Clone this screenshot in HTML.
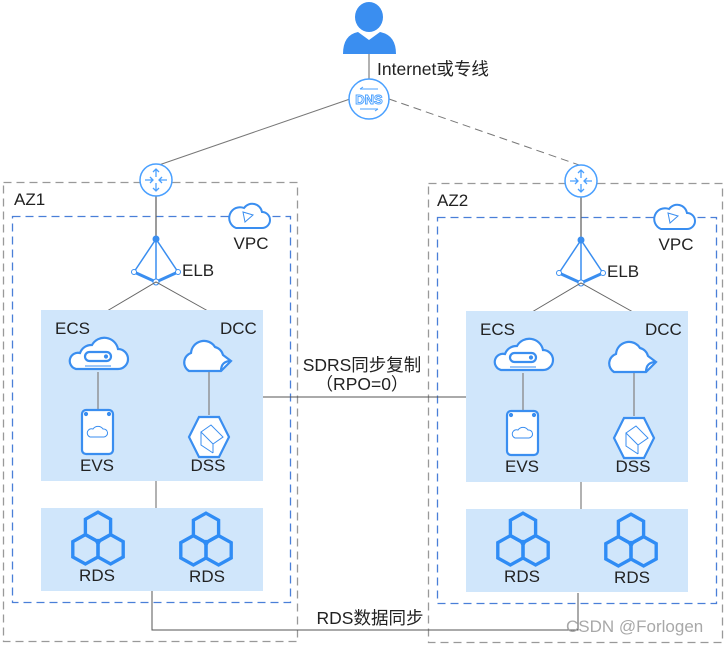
<!DOCTYPE html>
<html><head><meta charset="utf-8"><style>
html,body{margin:0;padding:0;background:#fff;}
svg{display:block;font-family:"Liberation Sans","Noto Sans CJK SC",sans-serif;}
</style></head><body>
<svg width="726" height="645" viewBox="0 0 726 645" xmlns="http://www.w3.org/2000/svg" font-size="17">
<defs>
<g id="router"><circle r="16" fill="#fff" stroke="#4aa0ff" stroke-width="1.5"/>
<path d="M0-11V-3M-3-8L0-11L3-8M0 11V3M-3 8L0 11L3 8M-11 0H-3M-6-3L-3 0L-6 3M11 0H3M6-3L3 0L6 3" stroke="#4aa0ff" stroke-width="1.3" fill="none"/></g>
<g id="vpc"><path d="M-14 12 H12 A8 8 0 0 0 12 -4 A10 10 0 0 0 -6 -8 A9 9 0 0 0 -14 12Z" fill="#fff" stroke="#3a8ef0" stroke-width="2"/><path d="M-7-4 L3 -1 L-5 6Z" fill="none" stroke="#3a8ef0" stroke-width="1"/></g>
<g id="elb" stroke="#3a8ef0" fill="none"><circle cy="-30" r="3" fill="#3a8ef0"/><path d="M0-30 V13 M0-30 L-22 3 M0-30 L22 3" stroke-width="1.5"/><path d="M-22 3 L0 13 L22 3" stroke-width="3"/><circle cx="-22" cy="3" r="2.5" fill="#fff"/><circle cx="22" cy="3" r="2.5" fill="#fff"/><circle cy="13" r="3" fill="#fff"/></g>
<g id="ecs" fill="none" stroke="#3a8ef0" stroke-width="2.2"><path d="M-22 12 H20 A10 10 0 0 0 20 -8 A14 14 0 0 0 -6 -12 A12 12 0 0 0 -18 -4 A8 8 0 0 0 -22 12Z" fill="#fff"/><rect x="-13" y="-5" width="26" height="9" rx="4.5"/><circle cx="8" cy="-0.5" r="1" fill="#3a8ef0"/><path d="M-13 9 H13" stroke-width="1"/></g>
<g id="dcc" fill="none" stroke="#3a8ef0" stroke-width="2.2"><path d="M-10 14 H-20 A10 10 0 0 1 -18 -4 A13 13 0 0 1 6 -10 A11 11 0 0 1 14 -2 L22 4 L12 14 Z" fill="#fff"/><path d="M22 4 Q12 4 12 14"/></g>
<g id="evs" fill="none" stroke="#3a8ef0" stroke-width="2.2"><rect x="-15" y="-22" width="31" height="44" rx="4" fill="#fff"/><path d="M-7 5 H7 A4 4 0 0 0 6 -3 A6 6 0 0 0 -4 -3 A4 4 0 0 0 -7 5Z" stroke-width="1"/><circle cx="-11" cy="-18" r="1" fill="#3a8ef0"/><circle cx="12" cy="-18" r="1" fill="#3a8ef0"/></g>
<g id="dss" fill="none" stroke="#3a8ef0" stroke-width="2.2"><path d="M-10-20 H10 L20 0 L10 20 H-10 L-20 0Z" fill="#fff"/><path d="M-8 -5 L2-12 L14 0 L4 7 Z M-8-5 L-8 8 L4 16 M4 7 V16" stroke-width="1"/></g>
<g id="rds" fill="none" stroke="#2f8cf5" stroke-width="2.4" transform="scale(1.4)"><path d="M0-22 L9-17 V-6 L0-1 L-9-6 V-17Z"/><path d="M-9-6 L0-1 V10 L-9 15 L-18 10 V-1Z"/><path d="M9-6 L18-1 V10 L9 15 L0 10 V-1Z"/><circle cy="-1" r="2" fill="#2f8cf5" stroke="none"/><path d="M0-1 V10 M0-1 L-9-6 M0-1 L9-6" stroke-width="0.8"/></g>
</defs>
<!-- person -->
<ellipse cx="369" cy="17" rx="14" ry="15" fill="#3a8ef0"/>
<path d="M343 54 Q343 35 358 32 L369 40 L380 32 Q396 35 396 54Z" fill="#3a8ef0"/>
<line x1="369" y1="54" x2="369" y2="79" stroke="#999" stroke-width="1.5"/>
<text x="377" y="75" font-size="17.5" fill="#222">Internet或专线</text>
<line x1="350" y1="99" x2="156" y2="166" stroke="#777" stroke-width="1"/>
<line x1="389" y1="99" x2="582" y2="166" stroke="#777" stroke-width="1" stroke-dasharray="8,5"/>
<circle cx="369" cy="99" r="20" fill="#fff" stroke="#4aa0ff" stroke-width="1.5"/>
<text x="369" y="104" font-size="13" font-weight="bold" fill="none" stroke="#4aa0ff" stroke-width="0.9" text-anchor="middle">DNS</text>
<path d="M360 89 H378 M360 89 l3 -2 M360 109 H378 M378 109 l-3 2" stroke="#4aa0ff" stroke-width="1" fill="none"/>
<rect x="3.5" y="182.5" width="294" height="459" fill="none" stroke="#999" stroke-width="1.3" stroke-dasharray="8,5"/>
<rect x="428.5" y="183.5" width="294" height="459" fill="none" stroke="#999" stroke-width="1.3" stroke-dasharray="8,5"/>
<rect x="12.5" y="216.5" width="278" height="386" fill="none" stroke="#4a7fd8" stroke-width="1.3" stroke-dasharray="8,5"/>
<rect x="437.5" y="217.5" width="279" height="386" fill="none" stroke="#4a7fd8" stroke-width="1.3" stroke-dasharray="8,5"/>
<text x="14" y="205" fill="#222">AZ1</text>
<text x="437" y="206" fill="#222">AZ2</text>
<line x1="263" y1="397" x2="467" y2="397" stroke="#555" stroke-width="1"/>
<text x="362" y="371" font-size="17.5" fill="#222" text-anchor="middle">SDRS同步复制</text>
<text x="362" y="390" font-size="17.5" fill="#222" text-anchor="middle">（RPO=0）</text>
<path d="M152 591 V630 H578 V593" fill="none" stroke="#555" stroke-width="1"/>
<text x="370" y="624" font-size="17.5" fill="#222" text-anchor="middle">RDS数据同步</text>
<g id="az">
<line x1="156" y1="196" x2="156" y2="240" stroke="#666" stroke-width="1.3"/>
<use href="#router" x="156" y="180"/>
<use href="#vpc" x="250" y="216"/>
<text x="251" y="249" fill="#222" text-anchor="middle">VPC</text>
<use href="#elb" x="156" y="269"/>
<text x="182" y="276" fill="#222">ELB</text>
<path d="M107 311 L156 282 L208 311" fill="none" stroke="#666" stroke-width="1"/>
<rect x="41" y="310" width="222" height="171" fill="#d0e6fb"/>
<line x1="156" y1="481" x2="156" y2="508" stroke="#666" stroke-width="1"/>
<rect x="41" y="508" width="222" height="83" fill="#d0e6fb"/>
<text x="55" y="334" fill="#222">ECS</text>
<text x="220" y="334" fill="#222">DCC</text>
<line x1="98" y1="372" x2="98" y2="410" stroke="#888" stroke-width="1.3"/>
<line x1="209" y1="372" x2="209" y2="415" stroke="#888" stroke-width="1.3"/>
<use href="#ecs" x="98" y="357"/>
<use href="#dcc" x="209" y="357"/>
<use href="#evs" x="97" y="432"/>
<use href="#dss" x="209" y="437"/>
<text x="97" y="471" fill="#222" text-anchor="middle">EVS</text>
<text x="208" y="471" fill="#222" text-anchor="middle">DSS</text>
<use href="#rds" x="98" y="543"/>
<use href="#rds" x="206" y="544"/>
<text x="97" y="581" fill="#222" text-anchor="middle">RDS</text>
<text x="207" y="582" fill="#222" text-anchor="middle">RDS</text>
</g>
<use href="#az" x="425" y="1"/>
<text x="566" y="632" font-size="17" fill="#999" opacity="0.85">CSDN @Forlogen</text>
</svg>
</body></html>
